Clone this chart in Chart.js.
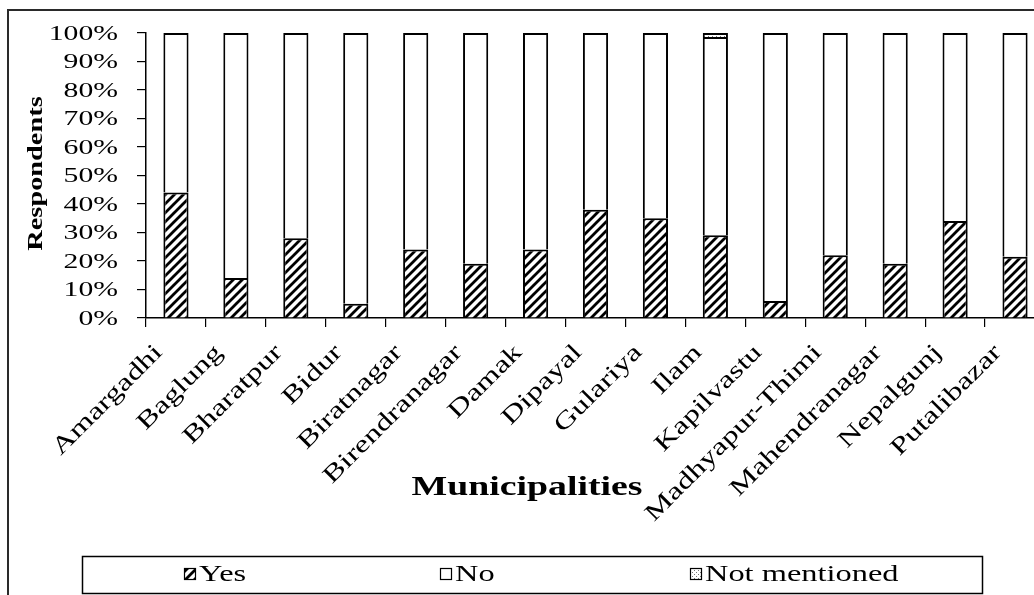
<!DOCTYPE html>
<html>
<head>
<meta charset="utf-8">
<title>Respondents by municipality</title>
<script src="https://cdn.jsdelivr.net/npm/chart.js@4.4.0/dist/chart.umd.min.js"></script>
<style>
  html, body { margin: 0; padding: 0; background: #fff; overflow: hidden; }
  body { width: 1034px; height: 595px; position: relative; }
  #chart { position: absolute; left: 0; top: 0; }
  #frame { position: absolute; left: 7px; top: 9px; width: 1100px; height: 700px; border: 2px solid #2a2a2a; pointer-events: none; }
</style>
</head>
<body>
<canvas id="chart" width="1058" height="600"></canvas>
<div id="frame"></div>
<script>
// Share of respondents (%) per municipality
const municipalities = [
  'Amargadhi', 'Baglung', 'Bharatpur', 'Bidur', 'Biratnagar',
  'Birendranagar', 'Damak', 'Dipayal', 'Gulariya', 'Ilam',
  'Kapilvastu', 'Madhyapur-Thimi', 'Mahendranagar', 'Nepalgunj', 'Putalibazar'
];
const yesShare = [44, 14, 28, 5, 24, 19, 24, 38, 35, 29, 6, 22, 19, 34, 21.5];
const noShare = [56, 86, 72, 95, 76, 81, 76, 62, 65, 69.6, 94, 78, 81, 66, 78.5];
const notMentionedShare = [0, 0, 0, 0, 0, 0, 0, 0, 0, 1.4, 0, 0, 0, 0, 0];
const percentTicks = [0, 10, 20, 30, 40, 50, 60, 70, 80, 90, 100];

const SERIF = '"Liberation Serif", "Times New Roman", serif';
const TEXT_STRETCH = 1.35; // wide lettering used throughout the figure

// diagonal hatch used for the "Yes" segments
function hatchPattern() {
  const c = document.createElement('canvas');
  c.width = c.height = 9;
  const g = c.getContext('2d');
  g.fillStyle = '#fff';
  g.fillRect(0, 0, 9, 9);
  g.strokeStyle = '#000';
  g.lineWidth = 2.8;
  g.beginPath();
  g.moveTo(-2, 11); g.lineTo(11, -2);
  g.moveTo(-2, 2); g.lineTo(2, -2);
  g.moveTo(7, 11); g.lineTo(11, 7);
  g.stroke();
  return g.createPattern(c, 'repeat');
}

// light speckle for "Not mentioned"
function dotPattern() {
  const c = document.createElement('canvas');
  c.width = c.height = 4;
  const g = c.getContext('2d');
  g.fillStyle = '#fff';
  g.fillRect(0, 0, 4, 4);
  g.fillStyle = '#777';
  g.fillRect(0, 0, 1, 1);
  g.fillRect(2, 2, 1, 1);
  return g.createPattern(c, 'repeat');
}

function wideText(ctx, text, x, y, angle, align) {
  ctx.save();
  ctx.translate(x, y);
  ctx.rotate(angle);
  ctx.scale(TEXT_STRETCH, 1);
  ctx.textAlign = align;
  ctx.fillText(text, 0, 0);
  ctx.restore();
}

// tick labels, axis titles and the boxed legend
const chartText = {
  id: 'chartText',
  afterDraw(chart) {
    const ctx = chart.ctx;
    const xs = chart.scales.x;
    const ys = chart.scales.y;
    ctx.save();
    ctx.fillStyle = '#000';
    ctx.textBaseline = 'middle';

    ctx.font = '22px ' + SERIF;
    ys.ticks.forEach(t => {
      wideText(ctx, t.value + '%', ys.right - 28, ys.getPixelForValue(t.value) + 1, 0, 'right');
    });

    ctx.font = '24px ' + SERIF;
    chart.data.labels.forEach((lab, i) => {
      wideText(ctx, lab, xs.getPixelForTick(i) - 17, xs.top + 31, -Math.PI / 4, 'right');
    });

    ctx.font = 'bold 21px ' + SERIF;
    wideText(ctx, 'Respondents', 37, (ys.top + ys.bottom) / 2 - 2, -Math.PI / 2, 'center');

    ctx.font = 'bold 28px ' + SERIF;
    wideText(ctx, 'Municipalities', 527, 488, 0, 'center');

    // legend
    const itemX = [184, 440, 690];
    ctx.strokeStyle = '#000';
    ctx.lineWidth = 1.5;
    ctx.strokeRect(82.5, 556.5, 900, 37);
    ctx.font = '24px ' + SERIF;
    ctx.lineWidth = 1.2;
    chart.data.datasets.forEach((ds, i) => {
      ctx.fillStyle = ds.backgroundColor;
      ctx.fillRect(itemX[i], 568, 12, 12);
      ctx.strokeRect(itemX[i] + 0.5, 568.5, 11, 11);
      ctx.fillStyle = '#000';
      wideText(ctx, ds.label, itemX[i] + 15, 575, 0, 'left');
    });
    ctx.restore();
  }
};

const segment = {
  borderColor: '#000',
  borderWidth: 2,
  barPercentage: 0.42,
  categoryPercentage: 1
};

new Chart(document.getElementById('chart'), {
  type: 'bar',
  data: {
    labels: municipalities,
    datasets: [
      { label: 'Yes', data: yesShare, backgroundColor: hatchPattern(), ...segment },
      { label: 'No', data: noShare, backgroundColor: '#fff', ...segment },
      { label: 'Not mentioned', data: notMentionedShare, backgroundColor: dotPattern(), ...segment }
    ]
  },
  options: {
    responsive: false,
    animation: false,
    layout: { padding: { top: 33, right: 13, bottom: 0, left: 0 } },
    plugins: {
      legend: { display: false },
      tooltip: { enabled: false }
    },
    scales: {
      x: {
        stacked: true,
        grid: { offset: true, drawOnChartArea: false, drawTicks: true, tickLength: 9, color: '#000', lineWidth: 1.2 },
        border: { color: '#000', width: 1.5 },
        ticks: { display: false, autoSkip: false },
        afterFit(scale) { scale.height = 282; }
      },
      y: {
        stacked: true,
        min: 0,
        max: 100,
        afterBuildTicks(scale) { scale.ticks = percentTicks.map(v => ({ value: v })); },
        grid: { drawOnChartArea: false, drawTicks: true, tickLength: 9, color: '#000', lineWidth: 1.2 },
        border: { color: '#000', width: 1.5 },
        ticks: { display: false, autoSkip: false },
        afterFit(scale) { scale.width = 146; }
      }
    }
  },
  plugins: [chartText]
});
</script>
</body>
</html>
